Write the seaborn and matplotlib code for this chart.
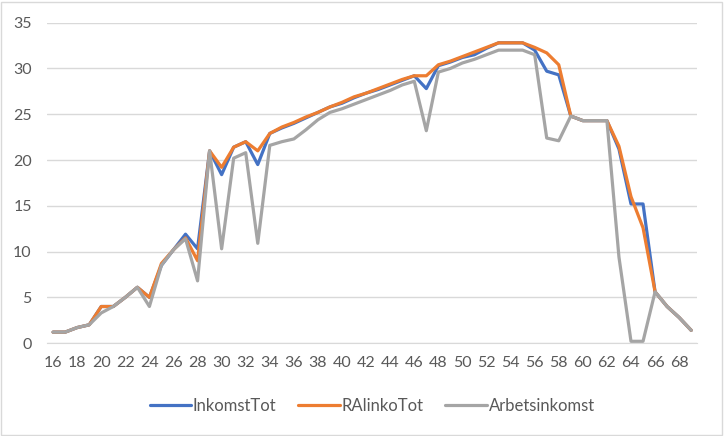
import pandas as pd
import seaborn as sns
import matplotlib.pyplot as plt
from matplotlib.patches import Rectangle

# Age categories on the x axis
ages = list(range(16, 70))

inkomst_tot = [1.2, 1.2, 1.7, 2.0, 4.0, 4.0, 5.0, 6.1, 5.0, 8.5,
               10.2, 11.9, 10.3, 21.0, 18.4, 21.4, 22.0, 19.5, 22.9, 23.5,
               24.0, 24.6, 25.2, 25.8, 26.2, 26.8, 27.3, 27.7, 28.2, 28.7,
               29.2, 27.8, 30.3, 30.7, 31.2, 31.5, 32.2, 32.8, 32.8, 32.8,
               32.0, 29.7, 29.3, 24.8, 24.3, 24.3, 24.3, 21.2, 15.2, 15.2,
               5.6, 4.0, 2.8, 1.4]

ralinko_tot = [1.2, 1.2, 1.7, 2.0, 4.0, 4.0, 5.0, 6.1, 5.0, 8.7,
               10.2, 11.5, 9.0, 21.0, 19.2, 21.4, 22.0, 21.0, 22.9, 23.6,
               24.1, 24.7, 25.2, 25.8, 26.3, 26.9, 27.3, 27.8, 28.3, 28.8,
               29.2, 29.2, 30.4, 30.8, 31.3, 31.8, 32.3, 32.8, 32.8, 32.8,
               32.3, 31.7, 30.4, 24.8, 24.3, 24.3, 24.3, 21.5, 16.0, 12.6,
               5.6, 4.0, 2.8, 1.4]

arbetsinkomst = [1.2, 1.2, 1.7, 2.0, 3.3, 4.0, 5.0, 6.1, 4.0, 8.5,
                 10.2, 11.4, 6.8, 21.0, 10.3, 20.2, 20.8, 10.9, 21.6, 22.0,
                 22.3, 23.3, 24.4, 25.2, 25.6, 26.1, 26.6, 27.1, 27.6, 28.2,
                 28.6, 23.2, 29.6, 30.0, 30.6, 31.0, 31.5, 32.0, 32.0, 32.0,
                 31.5, 22.4, 22.1, 24.8, 24.3, 24.3, 24.3, 9.4, 0.2, 0.2,
                 5.6, 4.0, 2.8, 1.4]

series_names = ['InkomstTot', 'RAlinkoTot', 'Arbetsinkomst']
colors = ['#4472C4', '#ED7D31', '#A5A5A5']

df = pd.DataFrame({'age': ages,
                   'InkomstTot': inkomst_tot,
                   'RAlinkoTot': ralinko_tot,
                   'Arbetsinkomst': arbetsinkomst})
long_df = df.melt(id_vars='age', var_name='serie', value_name='value')

sns.set_style('white')
plt.rcParams['font.family'] = ['Lato', 'DejaVu Sans']

fig = plt.figure(figsize=(7.24, 4.36), dpi=100)
ax = fig.add_axes([0.065, 0.213, 0.898, 0.735])

sns.lineplot(data=long_df, x='age', y='value', hue='serie',
             hue_order=series_names, palette=colors, linewidth=2.3, ax=ax)

ax.set_xlim(15.5, 69.5)
ax.set_ylim(0, 35)
ax.set_yticks(range(0, 36, 5))
ax.set_xticks(range(16, 69, 2))
ax.grid(axis='y', color='#D9D9D9', linewidth=1)
ax.set_axisbelow(True)
for side in ['top', 'right', 'left']:
    ax.spines[side].set_visible(False)
ax.spines['bottom'].set_color('#D9D9D9')
ax.tick_params(axis='both', length=0, labelsize=11.5, labelcolor='#595959')
ax.tick_params(axis='y', pad=11)
ax.tick_params(axis='x', pad=9)
ax.set_xlabel('')
ax.set_ylabel('')

ax.legend(loc='upper center', bbox_to_anchor=(0.5, -0.125), ncol=3,
          frameon=False, fontsize=12, labelcolor='#595959',
          handlelength=2.5, handletextpad=0.1, columnspacing=1.3)

# light border around the chart area like Excel
fig.patches.append(Rectangle((0.002, 0.003), 0.995, 0.993, transform=fig.transFigure,
                             fill=False, edgecolor='#D9D9D9', linewidth=1))

fig.savefig('out.png', dpi=100)
